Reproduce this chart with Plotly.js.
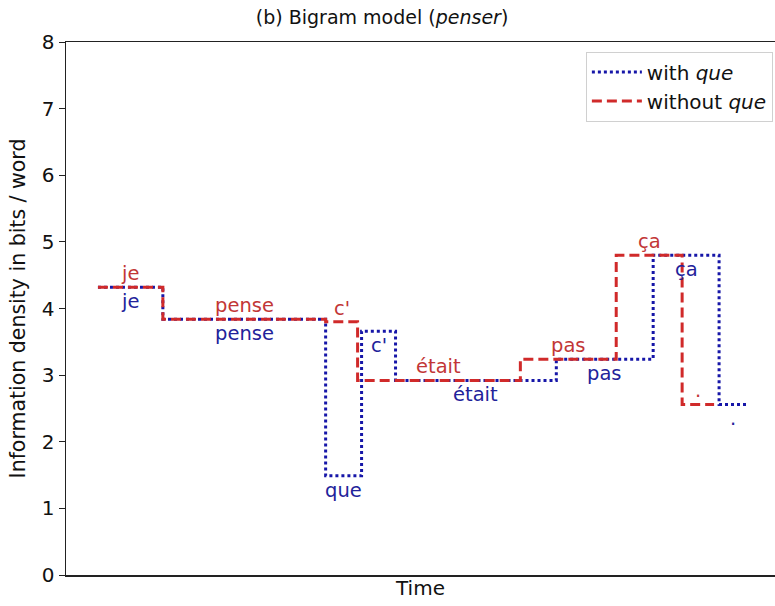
<!DOCTYPE html>
<html>
<head>
<meta charset="utf-8">
<script src="https://cdn.plot.ly/plotly-3.0.1.min.js"></script>
<style>html,body{margin:0;padding:0;background:#fff;}#chart{width:775px;height:606px;}</style>
</head>
<body>
<div id="chart"></div>
<script>
// Word sequences
const wordsWith = ["je", "pense", "que", "c'", "était", "pas", "ça", "."];
const wordsWithout = ["je", "pense", "c'", "était", "pas", "ça", "."];

// Word boundaries (time, arbitrary units)
const timesWith = [0.32, 0.97, 2.60, 2.96, 3.30, 4.91, 5.88, 6.54, 6.81];
const timesWithout = [0.32, 0.97, 2.60, 2.92, 4.55, 5.51, 6.17, 6.49];

// Information density (bits / word)
const densityWith = [4.32, 3.84, 1.49, 3.66, 2.92, 3.24, 4.80, 2.56];
const densityWithout = [4.32, 3.84, 3.80, 2.92, 3.24, 4.80, 2.56];

const lineBlue = "#1616a8";
const lineRed = "#d02a2a";
const textBlue = "#22229a";
const textRed = "#c23636";
const FONT = "DejaVu Sans, sans-serif";

function stepY(vals) { return vals.concat([vals[vals.length - 1]]); }

const traces = [
  {
    x: timesWith, y: stepY(densityWith), mode: "lines", line: {shape: "hv", color: lineBlue, width: 3, dash: "dot"},
    name: "with <i>que</i>"
  },
  {
    x: timesWithout, y: stepY(densityWithout), mode: "lines", line: {shape: "hv", color: lineRed, width: 3, dash: "10px,5px"},
    name: "without <i>que</i>"
  }
];

const annotations = [];
wordsWithout.forEach((w, i) => {
  annotations.push({
    x: (timesWithout[i] + timesWithout[i + 1]) / 2, y: densityWithout[i], text: w,
    showarrow: false, xanchor: "center", yanchor: "bottom", yshift: 0,
    font: {family: FONT, size: 19.5, color: textRed}
  });
});
wordsWith.forEach((w, i) => {
  annotations.push({
    x: (timesWith[i] + timesWith[i + 1]) / 2, y: densityWith[i], text: w,
    showarrow: false, xanchor: "center", yanchor: "top", yshift: -1,
    font: {family: FONT, size: 19.5, color: textBlue}
  });
});

const layout = {
  width: 775, height: 606,
  margin: {l: 66, r: 0, t: 42, b: 31},
  paper_bgcolor: "#fff", plot_bgcolor: "#fff",
  font: {family: FONT, size: 20, color: "#111"},
  title: {text: "(b) Bigram model (<i>penser</i>)", x: 0.493, xref: "container", xanchor: "center", y: 0.972, yref: "container", yanchor: "middle", font: {family: FONT, size: 19, color: "#111"}},
  xaxis: {
    range: [0, 7.1], showgrid: false, zeroline: false, showticklabels: false, ticks: "",
    showline: true, linecolor: "#222", linewidth: 1.5, mirror: true,
    title: {text: "Time", standoff: 5, font: {family: FONT, size: 20, color: "#111"}}
  },
  yaxis: {
    range: [0, 8], dtick: 1, showgrid: false, zeroline: false,
    showline: true, linecolor: "#222", linewidth: 1.5,
    ticks: "outside", ticklen: 6, tickcolor: "#222", tickfont: {family: FONT, size: 20, color: "#111"},
    title: {text: "Information density in bits / word", standoff: 10, font: {family: FONT, size: 20.5, color: "#111"}}
  },
  showlegend: true,
  legend: {
    x: 0.997, xanchor: "right", y: 0.982, yanchor: "top",
    bgcolor: "rgba(255,255,255,0.8)", bordercolor: "#d0d0d0", borderwidth: 1,
    font: {family: FONT, size: 20, color: "#111"}, tracegroupgap: 0, itemwidth: 50
  },
  annotations: annotations
};

Plotly.newPlot("chart", traces, layout, {displayModeBar: false, staticPlot: true});
</script>
</body>
</html>
